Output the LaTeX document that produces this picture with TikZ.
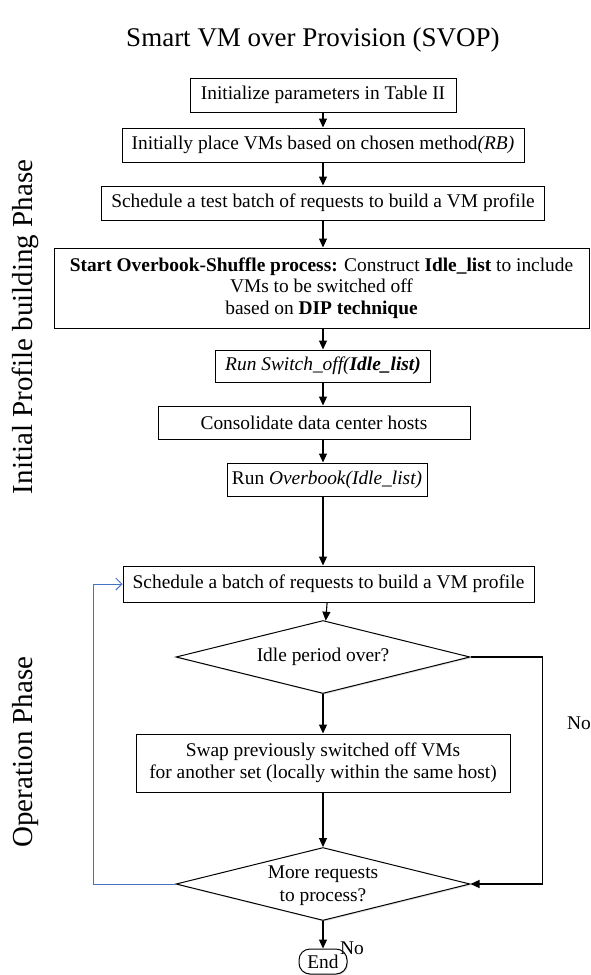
\documentclass[tikz,border=0pt]{standalone}
\usepackage{fontspec}
\setmainfont{Liberation Serif}
\usetikzlibrary{arrows.meta, positioning, shapes.geometric, shadows}
\definecolor{loopblue}{RGB}{68,114,196}

\begin{document}
\begin{tikzpicture}[
    x=1pt, y=-1pt,
    stepbox/.style = {draw, rectangle, line width=1pt, fill=white,
                      minimum height=34pt, align=center, inner sep=2pt,
                      font=\fontsize{19.4}{21.5}\selectfont},
    dec/.style     = {draw, diamond, line width=1pt, fill=white, aspect=4,
                      inner sep=0pt, align=center,
                      minimum width=294pt, minimum height=73pt,
                      font=\fontsize{19.4}{23}\selectfont,
                      drop shadow={opacity=0.25, shadow xshift=1.2pt, shadow yshift=-1.2pt}},
    term/.style    = {draw, rectangle, rounded corners=11pt, line width=1pt, fill=white,
                      minimum width=48pt, minimum height=25pt, inner sep=1pt,
                      font=\fontsize{19.4}{21}\selectfont,
                      drop shadow={opacity=0.25, shadow xshift=1.2pt, shadow yshift=-1.2pt}},
    arr/.style     = {-{Triangle[length=9pt,width=8pt]}, line width=1.1pt},
    backarr/.style = {-{Straight Barb[length=6pt,width=12pt]}, line width=1pt, draw=loopblue},
    lbl/.style     = {font=\fontsize{19.4}{21}\selectfont, inner sep=0pt},
    phase/.style   = {rotate=90, font=\fontsize{29}{32}\selectfont, inner sep=0pt},
]
    \useasboundingbox (0,0) rectangle (590,975);

    % ── Titre et phases ──
    \node[font=\fontsize{27}{30}\selectfont] (title) at (313, 40) {Smart VM over Provision (SVOP)};
    \node[phase] (initphase) at (25, 327) {Initial Profile building Phase};
    \node[phase] (opphase) at (26, 752) {Operation Phase};

    % ── Phase 1 : construction du profil ──
    \node[stepbox, minimum width=266pt] (init) at (323, 95) {Initialize parameters in Table II};
    \node[stepbox, minimum width=402pt] (place) at (323, 145) {Initially place VMs based on chosen method\textit{(RB)}};
    \node[stepbox, minimum width=443pt] (test) at (323, 203) {Schedule a test batch of requests to build a VM profile};
    \node[stepbox, minimum width=535pt, minimum height=80pt] (shuffle) at (321.5, 288)
        {\textbf{Start Overbook-Shuffle process:} Construct \textbf{Idle\_list} to include\\
         VMs to be switched off\\
         based on \textbf{DIP technique}};
    \node[stepbox, minimum width=215pt, minimum height=32pt] (switch) at (323, 366)
        {\textit{Run Switch\_off(\textbf{Idle\_list)}}};
    \node[stepbox, minimum width=312pt, minimum height=33pt] (consol) at (314, 422.5) {Consolidate data center hosts};
    \node[stepbox, minimum width=200pt, minimum height=33pt] (overbook) at (327, 479.5) {Run \textit{Overbook(Idle\_list)}};

    % ── Phase 2 : exploitation ──
    \node[stepbox, minimum width=411pt, minimum height=36pt] (sched) at (328.5, 584) {Schedule a batch of requests to build a VM profile};
    \node[dec] (idle) at (323, 657) {Idle period over?};
    \node[stepbox, minimum width=374pt, minimum height=58pt] (swap) at (323, 763)
        {Swap previously switched off VMs\\for another set (locally within the same host)};
    \node[dec] (more) at (323, 884) {\\[-6pt]More requests\\to process?};
    \node[term] (end) at (323, 961.5) {End};

    \node[lbl] (noidle) at (579, 723) {No};
    \node[lbl] (nomore) at (352, 948) {No};

    % ── Flux principal ──
    \draw[arr] (init) -- (place);
    \draw[arr] (place) -- (test);
    \draw[arr] (test) -- (test |- shuffle.north);
    \draw[arr] (shuffle.south -| switch) -- (switch);
    \draw[arr] (switch) -- (switch |- consol.north);
    \draw[arr] (consol.south -| switch) -- (switch |- overbook.north);
    \draw[arr] (overbook.south -| switch) -- (switch |- sched.north);
    \draw[arr] (sched) -- (idle);
    \draw[arr] (idle) -- (swap);
    \draw[arr] (swap) -- (more);
    \draw[arr] (more) -- (end);
    \draw[arr] (idle.east) -- ++(72,0) |- (more.east);

    % ── Boucle de retour (bleu) ──
    \draw[backarr] (more.west) -- ++(-82,0) |- (sched.west);

\end{tikzpicture}
\end{document}
